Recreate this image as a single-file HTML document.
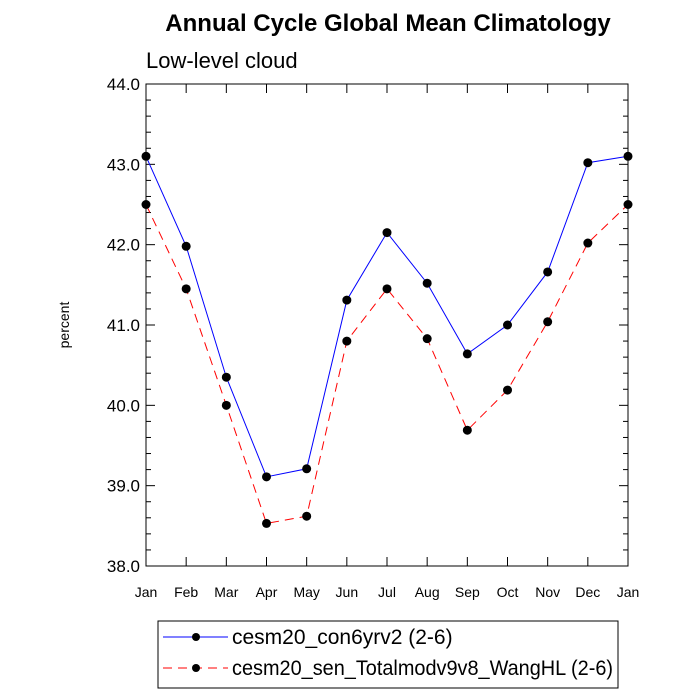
<!DOCTYPE html>
<html><head><meta charset="utf-8"><style>
body{margin:0;background:#fff;}
svg{display:block;font-family:"Liberation Sans",sans-serif;}
</style></head><body>
<svg id="chart" width="700" height="700">
<text x="388" y="31" text-anchor="middle" font-size="24" font-weight="bold">Annual Cycle Global Mean Climatology</text>
<text x="146" y="68" font-size="22">Low-level cloud</text>
<text x="69" y="325" font-size="14" text-anchor="middle" transform="rotate(-90 69 325)">percent</text>
<g id="axes"></g><g id="series"></g>
<rect x="158" y="621" width="460" height="67" fill="none" stroke="#000" stroke-width="1"/>
<g>
<line x1="163" y1="637" x2="228" y2="637" stroke="#00f"/><circle cx="196" cy="637" r="4"/>
<text x="232" y="644" font-size="21">cesm20_con6yrv2 (2-6)</text></g>
<g>
<line x1="163" y1="668" x2="228" y2="668" stroke="#f00" stroke-dasharray="9,6"/><circle cx="196" cy="668" r="4"/>
<text x="232" y="675" font-size="21" textLength="381" lengthAdjust="spacingAndGlyphs">cesm20_sen_Totalmodv9v8_WangHL (2-6)</text></g>
</svg>
<script>
const months=["Jan","Feb","Mar","Apr","May","Jun","Jul","Aug","Sep","Oct","Nov","Dec","Jan"];
const controlVals=[43.10,41.98,40.35,39.11,39.21,41.31,42.15,41.52,40.64,41.00,41.66,43.02,43.10];
const sensVals=[42.50,41.45,40.00,38.53,38.62,40.80,41.45,40.83,39.69,40.19,41.04,42.02,42.50];
const yTicks=["38.0","39.0","40.0","41.0","42.0","43.0","44.0"];
const L=146,R=628,T=84,B=566,ymin=38,ymax=44;
const ns="http://www.w3.org/2000/svg";
const xs=i=>L+(R-L)*i/(months.length-1);
const ys=v=>B-(v-ymin)/(ymax-ymin)*(B-T);
function mk(p,t,a){const e=document.createElementNS(ns,t);for(const k in a)e.setAttribute(k,a[k]);p.appendChild(e);return e;}
const ax=document.getElementById('axes');
const frame=mk(ax,'rect',{x:L,y:T,width:R-L,height:B-T,fill:'none',stroke:'#000','stroke-width':1});


months.forEach((m,i)=>{const x=xs(i);
mk(ax,'line',{x1:x,y1:B,x2:x,y2:B-9,stroke:'#000'});
mk(ax,'line',{x1:x,y1:T,x2:x,y2:T+9,stroke:'#000'});
const t=mk(ax,'text',{x:x,y:B+31,'text-anchor':'middle','font-size':14});t.textContent=m;

});
for(let v=ymin;v<=ymax+1e-6;v+=0.2){const y=ys(v);const major=Math.abs(v-Math.round(v))<1e-6;const len=major?9:5;
mk(ax,'line',{x1:L,y1:y,x2:L+len,y2:y,stroke:'#000'});
mk(ax,'line',{x1:R,y1:y,x2:R-len,y2:y,stroke:'#000'});}
yTicks.forEach(s=>{const v=parseFloat(s);const t=mk(ax,'text',{x:L-6,y:ys(v)+6,'text-anchor':'end','font-size':17});t.textContent=s;

});
const sg=document.getElementById('series');
function draw(vals,color,dash,name){const g=mk(sg,'g',{});


mk(g,'polyline',{points:vals.map((v,i)=>xs(i)+','+ys(v)).join(' '),fill:'none',stroke:color,'stroke-width':1,'stroke-dasharray':dash});
vals.forEach((v,i)=>{const c=mk(g,'circle',{cx:xs(i),cy:ys(v),r:4.5,fill:'#000'});

});}
draw(sensVals,'#f00','9,6','series-sensitivity');
draw(controlVals,'#00f','none','series-control');
</script>
</body></html>
